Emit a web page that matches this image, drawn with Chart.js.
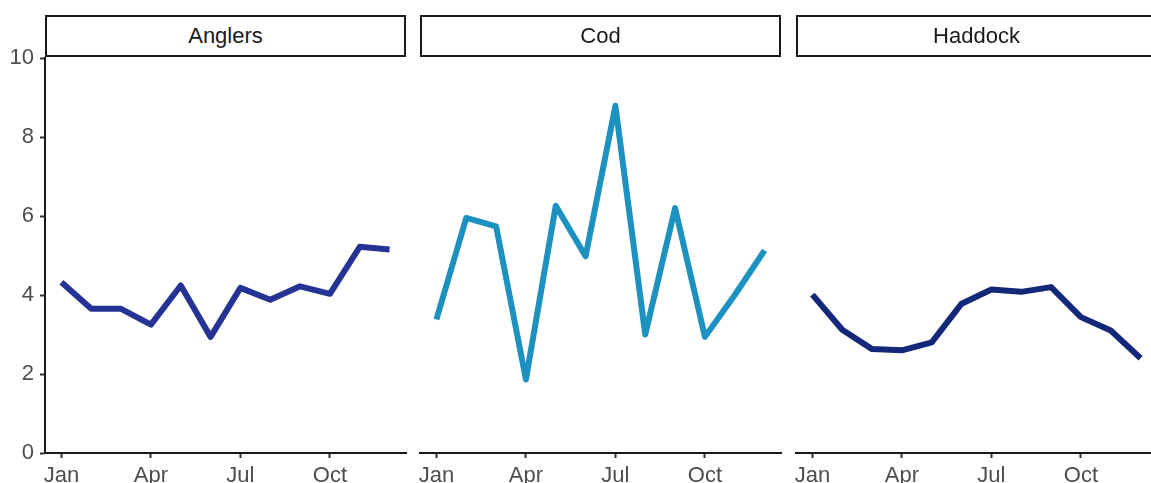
<!DOCTYPE html>
<html>
<head>
<meta charset="utf-8">
<script src="https://cdn.jsdelivr.net/npm/chart.js@4/dist/chart.umd.min.js"></script>
<style>
  body { margin: 0; width: 1151px; height: 483px; overflow: hidden; background: #fff; position: relative; font-family: "Liberation Sans", Arial, sans-serif; }
  .strip { position: absolute; top: 15px; height: 42px; width: 361px; box-sizing: border-box; border: 2px solid #1a1a1a; background: #fff;
           font-size: 22px; color: #1a1a1a; display: flex; align-items: center; justify-content: center; }
  canvas { position: absolute; top: 0; }
</style>
</head>
<body>
<div id="panels"></div>
<script>
const months = ['Jan', 'Feb', 'Mar', 'Apr', 'May', 'Jun', 'Jul', 'Aug', 'Sep', 'Oct', 'Nov', 'Dec']
const tickMonths = [1, 4, 7, 10]
const yTicks = [0, 2, 4, 6, 8, 10]
const species = ['Anglers', 'Cod', 'Haddock']

const anglers = [4.32, 3.65, 3.65, 3.25, 4.24, 2.94, 4.18, 3.88, 4.22, 4.03, 5.22, 5.15]
const cod = [3.38, 5.95, 5.74, 1.86, 6.26, 4.98, 8.79, 3.0, 6.2, 2.94, 4.0, 5.13]
const haddock = [4.01, 3.12, 2.63, 2.6, 2.8, 3.78, 4.14, 4.08, 4.2, 3.44, 3.1, 2.4]

const seriesValues = [anglers, cod, haddock]
const colors = ['#253494', '#1d91c0', '#14287a']
const panelLefts = [45, 420, 796]
const panelWidth = 361
const leftPad = 45

const holder = document.getElementById('panels')

species.forEach((name, p) => {
    const canvas = document.createElement('canvas')
    canvas.width = leftPad + panelWidth + 12
    canvas.height = 483
    canvas.style.left = (panelLefts[p] - leftPad) + 'px'
    canvas.style.width = canvas.width + 'px'
    canvas.style.height = '483px'
    holder.appendChild(canvas)

    const strip = document.createElement('div')
    strip.className = 'strip'
    strip.style.left = panelLefts[p] + 'px'
    strip.textContent = name
    document.body.appendChild(strip)

    const showY = p === 0

    new Chart(canvas.getContext('2d'), {
        type: 'line',
        data: {
            datasets: [{
                label: name,
                data: seriesValues[p].map((v, i) => ({ x: i + 1, y: v })),
                borderColor: colors[p],
                borderWidth: 6,
                borderJoinStyle: 'round',
                borderCapStyle: 'butt',
                pointRadius: 0,
                tension: 0,
                fill: false
            }]
        },
        options: {
            responsive: false,
            animation: false,
            layout: { padding: { top: 58, left: showY ? 0 : leftPad, right: 12, bottom: 0 } },
            plugins: { legend: { display: false }, tooltip: { enabled: false } },
            scales: {
                x: {
                    type: 'linear',
                    min: 1 - 0.55,
                    max: 12 + 0.55,
                    afterBuildTicks: scale => { scale.ticks = tickMonths.map(v => ({ value: v })) },
                    afterFit: scale => { scale.height = 30 },
                    ticks: {
                        callback: v => months[v - 1],
                        color: '#4d4d4d',
                        font: { family: 'Liberation Sans', size: 22 },
                        padding: 5,
                        maxRotation: 0,
                        autoSkip: false
                    },
                    grid: { display: true, drawOnChartArea: false, drawTicks: true, tickLength: 5, tickColor: '#333', tickWidth: 2 },
                    border: { display: true, color: '#1a1a1a', width: 2 }
                },
                y: {
                    display: showY,
                    min: 0,
                    max: 10,
                    afterBuildTicks: scale => { scale.ticks = yTicks.map(v => ({ value: v })) },
                    afterFit: scale => { if (showY) scale.width = leftPad },
                    ticks: {
                        color: '#4d4d4d',
                        font: { family: 'Liberation Sans', size: 22 },
                        padding: 6
                    },
                    grid: { display: true, drawOnChartArea: false, drawTicks: true, tickLength: 5, tickColor: '#333', tickWidth: 2 },
                    border: { display: true, color: '#1a1a1a', width: 2 }
                }
            }
        }
    })
})
</script>
</body>
</html>
